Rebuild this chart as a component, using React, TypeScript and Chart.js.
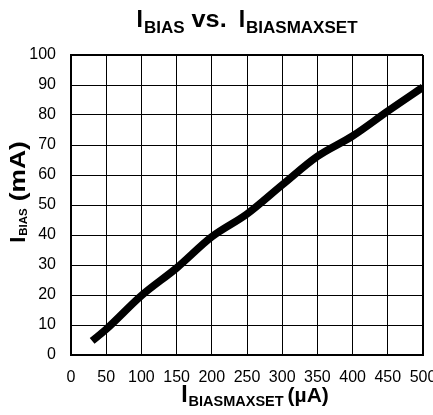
import React, { useEffect, useRef } from "react";
import { Chart, registerables } from "chart.js";

Chart.register(...registerables);

// ---- data ----
const xValues = [30, 50, 100, 150, 200, 250, 300, 350, 400, 450, 500];
const yValues = [4.7, 8.6, 19.8, 29, 39.4, 47, 56.7, 66.2, 73, 81.3, 89.3];

const xMin = 0;
const xMax = 500;
const xStep = 50;
const yMin = 0;
const yMax = 100;
const yStep = 10;

const titleParts = ["I", "BIAS", "vs.", "I", "BIASMAXSET"];
const xTitleParts = ["I", "BIASMAXSET", "(\u00b5A)"];
const yTitleParts = ["I", "BIAS", "(mA)"];

const FAMILY = '"Liberation Sans", Arial, Helvetica, sans-serif';

type Part = { text: string; font: string; dy: number; gap?: number; sx?: number };

function drawRich(ctx: CanvasRenderingContext2D, parts: Part[], cx: number, cy: number) {
  let total = 0;
  const widths = parts.map((p) => {
    ctx.font = p.font;
    const w = ctx.measureText(p.text).width * (p.sx ?? 1);
    total += w + (p.gap ?? 0);
    return w;
  });
  let x = cx - total / 2;
  parts.forEach((p, i) => {
    x += p.gap ?? 0;
    ctx.save();
    ctx.font = p.font;
    ctx.fillStyle = "#000";
    ctx.textAlign = "left";
    ctx.textBaseline = "alphabetic";
    ctx.translate(x, cy + p.dy);
    ctx.scale(p.sx ?? 1, 1);
    ctx.fillText(p.text, 0, 0);
    ctx.restore();
    x += widths[i];
  });
}

const titlesPlugin = {
  id: "richTitles",
  afterDraw(chart: any) {
    const ctx: CanvasRenderingContext2D = chart.ctx;
    const area = chart.chartArea;
    const cx = (area.left + area.right) / 2;
    // main title
    drawRich(
      ctx,
      [
        { text: titleParts[0], font: `bold 23px ${FAMILY}`, dy: 0 },
        { text: titleParts[1], font: `bold 17px ${FAMILY}`, dy: 6, gap: 1 },
        { text: titleParts[2], font: `bold 23px ${FAMILY}`, dy: 0, gap: 7, sx: 1.1 },
        { text: titleParts[3], font: `bold 23px ${FAMILY}`, dy: 0, gap: 12 },
        { text: titleParts[4], font: `bold 17px ${FAMILY}`, dy: 6, gap: 1 },
      ],
      cx,
      area.top - 28
    );
    // x axis title
    drawRich(
      ctx,
      [
        { text: xTitleParts[0], font: `bold 23px ${FAMILY}`, dy: 0 },
        { text: xTitleParts[1], font: `bold 14.5px ${FAMILY}`, dy: 4, gap: 1 },
        { text: xTitleParts[2], font: `bold 21px ${FAMILY}`, dy: 0, gap: 4 },
      ],
      cx + 8,
      area.bottom + 47
    );
    // y axis title (rotated)
    ctx.save();
    ctx.translate(25, (area.top + area.bottom) / 2 - 13);
    ctx.rotate(-Math.PI / 2);
    drawRich(
      ctx,
      [
        { text: yTitleParts[0], font: `bold 22px ${FAMILY}`, dy: 0 },
        { text: yTitleParts[1], font: `bold 11.5px ${FAMILY}`, dy: 2, gap: 1 },
        { text: yTitleParts[2], font: `bold 22px ${FAMILY}`, dy: 0, gap: 7, sx: 1.2 },
      ],
      0,
      0
    );
    ctx.restore();
  },
};

export default function App() {
  const canvasRef = useRef<HTMLCanvasElement | null>(null);

  useEffect(() => {
    if (!canvasRef.current) return;
    const points = xValues.map((x, i) => ({ x, y: yValues[i] }));
    const chart = new Chart(canvasRef.current, {
      type: "line",
      data: {
        datasets: [
          {
            data: points,
            borderColor: "#000",
            backgroundColor: "#000",
            borderWidth: 7.5,
            pointRadius: 0,
            cubicInterpolationMode: "monotone",
            borderCapStyle: "butt",
            borderJoinStyle: "round",
            fill: false,
          },
        ],
      },
      options: {
        responsive: false,
        animation: false,
        devicePixelRatio: 1,
        layout: { padding: { left: 0, right: 10, top: 55, bottom: 0 } },
        plugins: {
          legend: { display: false },
          tooltip: { enabled: false },
          title: { display: false },
        },
        scales: {
          x: {
            type: "linear",
            min: xMin,
            max: xMax,
            ticks: {
              stepSize: xStep,
              autoSkip: false,
              maxRotation: 0,
              color: "#000",
              padding: 13,
              font: { family: FAMILY, size: 16 },
            },
            grid: {
              color: "#000",
              lineWidth: (c: any) => (c.tick && c.tick.value === xMax ? 2 : 1),
              drawTicks: false,
            },
            border: { display: true, color: "#000", width: 2 },
            afterFit: (scale: any) => {
              scale.height = 60;
              scale.paddingLeft = 0;
              scale.paddingRight = 0;
            },
          },
          y: {
            type: "linear",
            min: yMin,
            max: yMax,
            ticks: {
              stepSize: yStep,
              autoSkip: false,
              color: "#000",
              padding: 15,
              font: { family: FAMILY, size: 16 },
            },
            grid: {
              color: "#000",
              lineWidth: (c: any) => (c.tick && c.tick.value === yMax ? 2 : 1),
              drawTicks: false,
            },
            border: { display: true, color: "#000", width: 2 },
            afterFit: (scale: any) => {
              scale.width = 71;
              scale.paddingTop = 0;
              scale.paddingBottom = 0;
            },
          },
        },
      },
      plugins: [titlesPlugin],
    });
    return () => chart.destroy();
  }, []);

  return (
    <div style={{ position: "fixed", left: 0, top: 0, width: 433, height: 415, background: "#fff" }}>
      <canvas ref={canvasRef} width={433} height={415} style={{ display: "block", width: 433, height: 415 }} />
    </div>
  );
}
